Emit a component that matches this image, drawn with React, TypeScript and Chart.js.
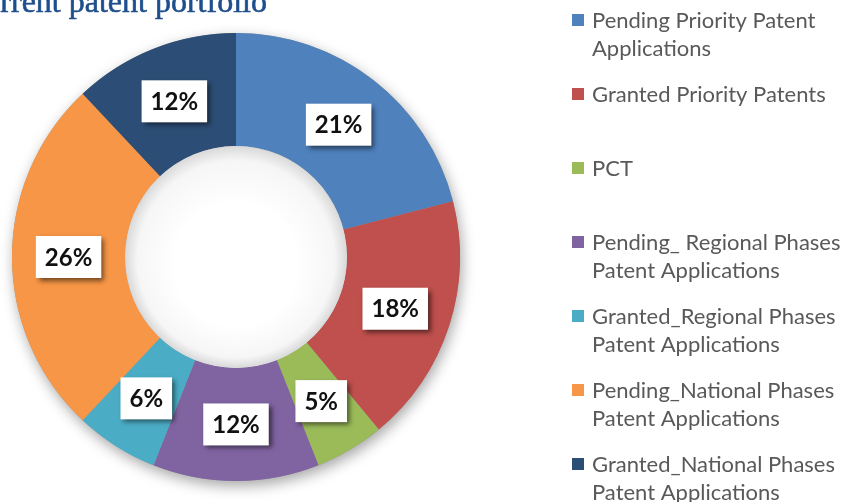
import React, { useEffect, useRef } from "react";
import { Chart, registerables } from "chart.js";

Chart.register(...registerables);

const titleText = "Current patent portfolio";
const categories: string[][] = [
  ["Pending Priority Patent", "Applications"],
  ["Granted Priority Patents"],
  ["PCT"],
  ["Pending_ Regional Phases", "Patent Applications"],
  ["Granted_Regional Phases", "Patent Applications"],
  ["Pending_National Phases", "Patent Applications"],
  ["Granted_National Phases", "Patent Applications"],
];
const shares = [21, 18, 5, 12, 6, 26, 12];
const colors = ["#4F81BD", "#C0504D", "#9BBB59", "#8064A2", "#4BACC6", "#F79646", "#2C4D75"];

const LEGEND_FONT = "22px Lato, 'Open Sans', sans-serif";
const LABEL_FONT = "bold 24px Lato, 'Open Sans', sans-serif";

const decorPlugin = {
  id: "decor",
  beforeDatasetsDraw(chart: any) {
    const meta = chart.getDatasetMeta(0);
    const arc = meta.data[0];
    if (!arc) return;
    const { x, y, outerRadius, innerRadius } = arc.getProps(["x", "y", "outerRadius", "innerRadius"], true);
    const ctx = chart.ctx;
    ctx.save();
    ctx.beginPath();
    ctx.arc(x, y, outerRadius, 0, Math.PI * 2);
    ctx.arc(x, y, innerRadius, 0, Math.PI * 2, true);
    ctx.closePath();
    ctx.shadowColor = "rgba(0,0,0,0.35)";
    ctx.shadowBlur = 14;
    ctx.shadowOffsetX = 2;
    ctx.shadowOffsetY = 5;
    ctx.fillStyle = "#999";
    ctx.fill();
    ctx.restore();
  },
  afterDatasetsDraw(chart: any) {
    const ctx = chart.ctx;
    const meta = chart.getDatasetMeta(0);
    const first = meta.data[0];
    if (!first) return;
    const { x, y, innerRadius } = first.getProps(["x", "y", "innerRadius"], true);
    // hole inset shading
    ctx.save();
    const g = ctx.createRadialGradient(x, y + 8, innerRadius * 0.55, x, y, innerRadius);
    g.addColorStop(0, "#ffffff");
    g.addColorStop(0.75, "#f6f6f6");
    g.addColorStop(1, "#d9d9d9");
    ctx.beginPath();
    ctx.arc(x, y, innerRadius, 0, Math.PI * 2);
    ctx.fillStyle = g;
    ctx.fill();
    ctx.restore();

    // data labels
    const data = chart.data.datasets[0].data as number[];
    meta.data.forEach((el: any, i: number) => {
      const p = el.tooltipPosition(true);
      const text = data[i] + "%";
      ctx.save();
      ctx.font = LABEL_FONT;
      const tw = ctx.measureText(text).width;
      const bw = tw + 18;
      const bh = 42;
      ctx.shadowColor = "rgba(0,0,0,0.55)";
      ctx.shadowBlur = 5;
      ctx.shadowOffsetX = 3;
      ctx.shadowOffsetY = 3;
      ctx.fillStyle = "#ffffff";
      ctx.fillRect(p.x - bw / 2, p.y - bh / 2, bw, bh);
      ctx.shadowColor = "transparent";
      ctx.fillStyle = "#111111";
      ctx.textAlign = "center";
      ctx.textBaseline = "middle";
      ctx.fillText(text, p.x, p.y + 1);
      ctx.restore();
    });
  },
  afterDraw(chart: any) {
    const ctx = chart.ctx;
    // title (partially cropped, as in the reference)
    ctx.save();
    ctx.font = "32px 'Liberation Serif', 'Times New Roman', serif";
    ctx.fillStyle = "#1F4E8C";
    ctx.strokeStyle = "#1F4E8C";
    ctx.lineWidth = 0.6;
    ctx.textAlign = "left";
    ctx.textBaseline = "alphabetic";
    ctx.fillText(titleText, -37, 12);
    ctx.strokeText(titleText, -37, 12);
    ctx.restore();

    // legend
    const labels = chart.data.labels as string[][];
    const bg = chart.data.datasets[0].backgroundColor as string[];
    const left = chart.chartArea.right + 112;
    const top0 = 20;
    const slot = 74;
    const lineH = 28;
    ctx.save();
    ctx.font = LEGEND_FONT;
    ctx.textBaseline = "middle";
    ctx.textAlign = "left";
    labels.forEach((lines, i) => {
      const cy = top0 + i * slot;
      ctx.fillStyle = bg[i];
      ctx.fillRect(left, cy - 6, 12, 12);
      ctx.fillStyle = "#595959";
      lines.forEach((ln, j) => {
        ctx.fillText(ln, left + 20, cy + j * lineH + 1);
      });
    });
    ctx.restore();
  },
};

export default function App() {
  const ref = useRef<HTMLCanvasElement | null>(null);
  useEffect(() => {
    if (!ref.current) return;
    const chart = new Chart(ref.current, {
      type: "doughnut",
      data: {
        labels: categories as any,
        datasets: [
          {
            data: shares,
            backgroundColor: colors,
            borderWidth: 0,
          },
        ],
      },
      options: {
        animation: false,
        responsive: false,
        cutout: "49.5%",
        layout: { padding: { left: 12, top: 33, right: 389, bottom: 21 } },
        plugins: {
          legend: { display: false },
          tooltip: { enabled: false },
          title: { display: false },
        },
      },
      plugins: [decorPlugin],
    });
    return () => chart.destroy();
  }, []);
  return (
    <div style={{ position: "fixed", left: 0, top: 0, width: 849, height: 502, background: "#ffffff" }}>
      <canvas ref={ref} width={849} height={502} style={{ display: "block", width: 849, height: 502 }} />
    </div>
  );
}
